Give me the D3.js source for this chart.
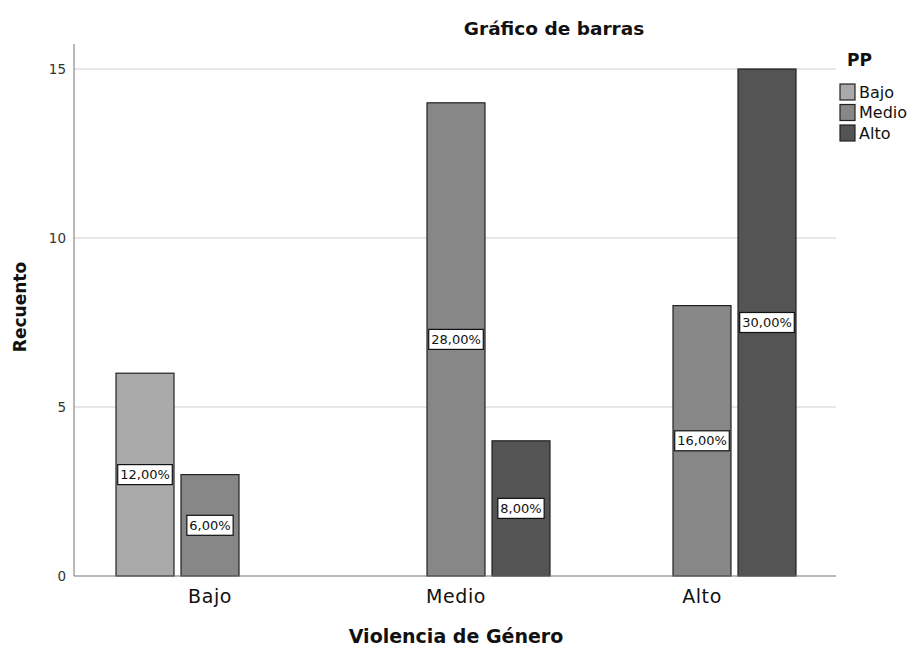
<!DOCTYPE html>
<html><head><meta charset="utf-8">
<script src="https://cdn.jsdelivr.net/npm/d3@7"></script>
<style>body{margin:0;background:#fff;} svg{display:block;font-family:"DejaVu Sans",sans-serif;}</style>
</head><body>
<svg id="c" width="913" height="647"></svg>
<script>
const categories = ["Bajo", "Medio", "Alto"];
const seriesNames = ["Bajo", "Medio", "Alto"];
// counts[group][series]; null = no bar
const countsBajo = [6, 3, null];
const countsMedio = [null, 14, 4];
const countsAlto = [null, 8, 15];
const pctBajo = ["12,00%", "6,00%", null];
const pctMedio = [null, "28,00%", "8,00%"];
const pctAlto = [null, "16,00%", "30,00%"];
const yTicks = [0, 5, 10, 15];
const colors = ["#aaaaaa", "#878787", "#545454"];

const counts = [countsBajo, countsMedio, countsAlto];
const pcts = [pctBajo, pctMedio, pctAlto];
const data = [];
categories.forEach((c, i) => seriesNames.forEach((s, j) => {
  if (counts[i][j] != null) data.push({cat: c, ser: s, v: counts[i][j], p: pcts[i][j], j});
}));

const svg = d3.select("#c");
const left = 74, right = 836, bottom = 576;
const y = d3.scaleLinear().domain([0, 15]).range([bottom, 69]);
const x0 = d3.scaleBand().domain(categories).range([87, 825]);
const x1 = d3.scaleBand().domain(seriesNames).range([29, 217]).paddingInner(7/65).paddingOuter(0);
const color = d3.scaleOrdinal().domain(seriesNames).range(colors);

// gridlines
svg.append("g").selectAll("line").data(yTicks.filter(t => t > 0)).join("line")
  .attr("x1", left).attr("x2", right).attr("y1", d => y(d)).attr("y2", d => y(d))
  .attr("stroke", "#cfcfcf").attr("stroke-width", 1.2);

// y axis
const yAxis = svg.append("g").attr("transform", `translate(${left},0)`)
  .call(d3.axisLeft(y).tickValues(yTicks).tickSize(0).tickPadding(8));
yAxis.select(".domain").remove();
yAxis.selectAll("text").attr("font-size", 13.5).attr("fill", "#333").attr("font-family", "DejaVu Sans");
svg.append("line").attr("x1", left).attr("x2", left).attr("y1", 44).attr("y2", bottom)
  .attr("stroke", "#777").attr("stroke-width", 1);

// bars
svg.append("g").selectAll("rect").data(data).join("rect")
  .attr("x", d => x0(d.cat) + x1(d.ser)).attr("y", d => y(d.v))
  .attr("width", x1.bandwidth()).attr("height", d => y(0) - y(d.v))
  .attr("fill", d => color(d.ser)).attr("stroke", "#222").attr("stroke-width", 1.2);

// x axis
svg.append("line").attr("x1", left).attr("x2", right).attr("y1", bottom).attr("y2", bottom)
  .attr("stroke", "#777").attr("stroke-width", 1.2);
const xAxis = svg.append("g").attr("transform", `translate(0,${bottom})`)
  .call(d3.axisBottom(x0).tickSize(0).tickPadding(14));
xAxis.select(".domain").remove();
xAxis.selectAll("text").attr("font-size", 19).attr("letter-spacing", 0.6).attr("fill", "#111").attr("font-family", "DejaVu Sans");

// value labels
const lab = svg.append("g").selectAll("g").data(data).join("g")
  .attr("transform", d => `translate(${x0(d.cat) + x1(d.ser) + x1.bandwidth()/2},${y(d.v/2)})`);
lab.append("text").text(d => d.p).attr("text-anchor", "middle").attr("dy", "0.36em")
  .attr("font-size", 13).attr("fill", "#111").attr("font-family", "DejaVu Sans")
  .each(function(){
    const b = this.getBBox();
    d3.select(this.parentNode).insert("rect", "text")
      .attr("x", b.x - 2.5).attr("y", -10).attr("width", b.width + 5).attr("height", 20)
      .attr("fill", "#fff").attr("stroke", "#111").attr("stroke-width", 1.2);
  });

// titles
svg.append("text").attr("x", 554).attr("y", 35).attr("text-anchor", "middle")
  .attr("font-size", 18.5).attr("font-weight", "bold").attr("fill", "#111").text("Gráfico de barras");
svg.append("text").attr("transform", "translate(26,307) rotate(-90)").attr("text-anchor", "middle")
  .attr("font-size", 17).attr("font-weight", "bold").attr("fill", "#111").text("Recuento");
svg.append("text").attr("x", 456).attr("y", 643).attr("text-anchor", "middle")
  .attr("font-size", 19).attr("font-weight", "bold").attr("fill", "#111").text("Violencia de Género");

// legend
svg.append("text").attr("x", 847).attr("y", 66).attr("font-size", 17).attr("font-weight", "bold")
  .attr("fill", "#111").text("PP");
const lg = svg.append("g").selectAll("g").data(seriesNames).join("g")
  .attr("transform", (d, i) => `translate(840,${84 + i * 20.5})`);
lg.append("rect").attr("x", 0).attr("y", 0).attr("width", 15).attr("height", 16)
  .attr("fill", d => color(d)).attr("stroke", "#222").attr("stroke-width", 1.2);
lg.append("text").attr("x", 19).attr("y", 8).attr("dy", "0.36em").attr("font-size", 16)
  .attr("fill", "#111").text(d => d);
</script>
</body></html>
